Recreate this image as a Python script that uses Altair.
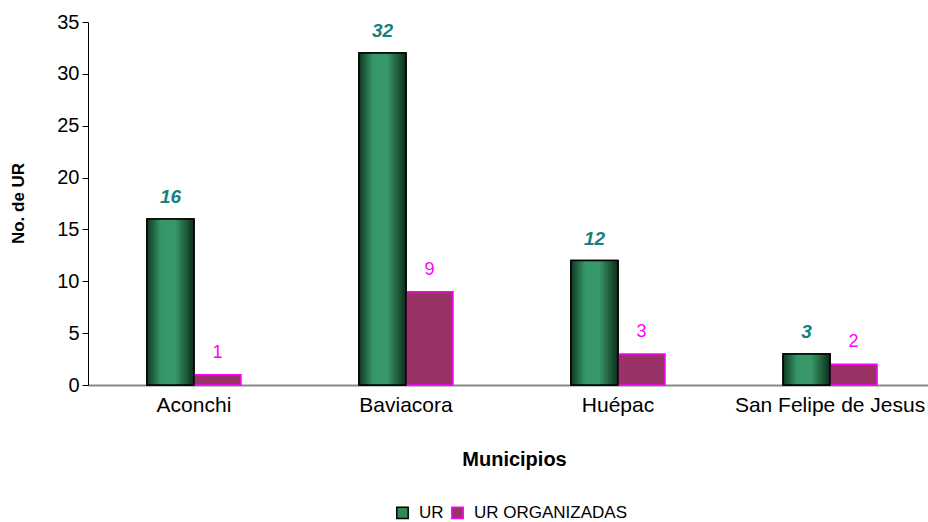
import altair as alt
import pandas as pd

municipios = ["Aconchi", "Baviacora", "Huépac", "San Felipe de Jesus"]
series = ["UR", "UR ORGANIZADAS"]
ur = [16, 32, 12, 3]
ur_org = [1, 9, 3, 2]

rows = []
for m, a, b in zip(municipios, ur, ur_org):
    rows.append({"Municipio": m, "Serie": series[0], "Valor": a})
    rows.append({"Municipio": m, "Serie": series[1], "Valor": b})
df = pd.DataFrame(rows)

FONT = "Liberation Sans"

x_enc = alt.X(
    "Municipio:N",
    sort=municipios,
    scale=alt.Scale(range=[0, 848], paddingInner=0.5566, paddingOuter=0.278),
    axis=alt.Axis(
        title="Municipios",
        labelAngle=0,
        labelFont=FONT,
        labelFontSize=21,
        labelColor="black",
        labelPadding=9,
        labelLimit=0,
        ticks=False,
        domainColor="#888888",
        domainWidth=2,
        titleFont=FONT,
        titleFontSize=20,
        titleFontWeight="bold",
        titleColor="black",
        titleX=426,
        titleY=80,
        titleBaseline="alphabetic",
    ),
)
xoff = alt.XOffset("Serie:N", scale=alt.Scale(domain=series, paddingInner=0, paddingOuter=0))
y_enc = alt.Y(
    "Valor:Q",
    scale=alt.Scale(domain=[0, 35], nice=False),
    axis=alt.Axis(
        title="No. de UR",
        values=[0, 5, 10, 15, 20, 25, 30, 35],
        grid=False,
        labelFont=FONT,
        labelFontSize=20,
        labelColor="black",
        labelPadding=3,
        tickColor="black",
        tickSize=6,
        domainColor="black",
        titleFont=FONT,
        titleFontSize=17,
        titleFontWeight="bold",
        titleColor="black",
        titleX=-70,
        titleY=181,
        titleAngle=-90,
        titleBaseline="middle",
        titleAlign="center",
    ),
)

base = alt.Chart(df)

bars = base.mark_bar(strokeWidth=1.5).encode(
    x=x_enc,
    xOffset=xoff,
    y=y_enc,
    color=alt.Color(
        "Serie:N",
        scale=alt.Scale(domain=series, range=["#2e8b57", "#993366"]),
        legend=alt.Legend(
            title=None,
            orient="none",
            direction="horizontal",
            legendX=306,
            legendY=482,
            symbolType="square",
            symbolSize=130,
            symbolStrokeWidth=1.5,
            labelFont=FONT,
            labelFontSize=17,
            labelColor="black",
            columnPadding=4,
            labelOffset=8,
        ),
    ),
    stroke=alt.Stroke(
        "Serie:N",
        scale=alt.Scale(domain=series, range=["black", "#ff00ff"]),
        legend=None,
    ),
)

grad = alt.Gradient(
    gradient="linear",
    x1=0, x2=1, y1=0, y2=0,
    stops=[
        alt.GradientStop(offset=0, color="#0f3a22"),
        alt.GradientStop(offset=0.3, color="#369767"),
        alt.GradientStop(offset=0.6, color="#389869"),
        alt.GradientStop(offset=1, color="#0b2e19"),
    ],
)

green_overlay = base.transform_filter(alt.datum.Serie == "UR").mark_bar(
    fill=grad, stroke="black", strokeWidth=1.5
).encode(x=x_enc, xOffset=xoff, y=y_enc)

text_ur = base.transform_filter(alt.datum.Serie == "UR").mark_text(
    font=FONT, fontSize=19, fontWeight="bold", fontStyle="italic",
    color="#178080", dy=-16, baseline="alphabetic",
).encode(x=x_enc, xOffset=xoff, y=y_enc, text="Valor:Q")

text_org = base.transform_filter(alt.datum.Serie == "UR ORGANIZADAS").mark_text(
    font=FONT, fontSize=18, color="#ff00ff", dy=-17, baseline="alphabetic",
).encode(x=x_enc, xOffset=xoff, y=y_enc, text="Valor:Q")

chart = (
    alt.layer(bars, green_overlay, text_ur, text_org)
    .properties(
        width=840,
        height=363,
        padding={"left": 88, "top": 22, "right": 0, "bottom": 137},
        autosize=alt.AutoSizeParams(type="none"),
        background="white",
    )
    .configure_view(stroke=None)
)

chart.save("out.html", embed_options={"renderer": "svg", "actions": False})
